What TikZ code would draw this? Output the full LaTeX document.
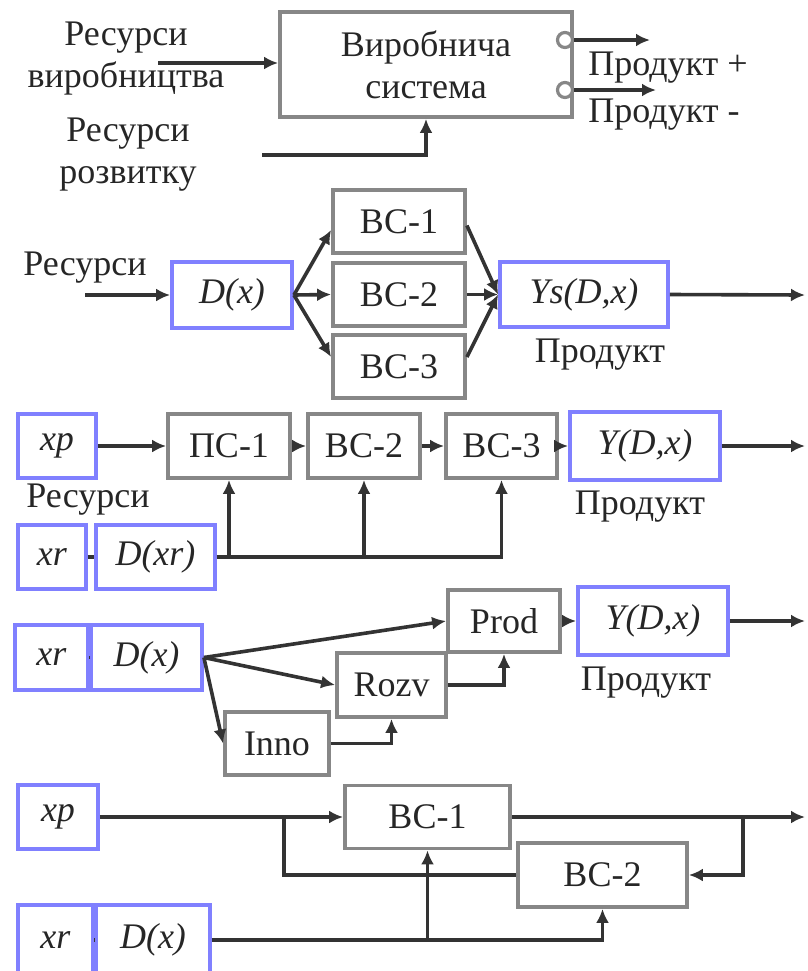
\documentclass[tikz,border=0pt]{standalone}
\usepackage{fontspec}
\setmainfont{Liberation Serif}
\usetikzlibrary{arrows.meta}

\tikzset{
  box/.style={draw=black!47, line width=1.9pt, fill=white, inner sep=0pt,
    align=center, text=black!85},
  bbox/.style={box, draw=blue!50},
  arr/.style={line width=1.8pt, draw=black!80, -{Latex[length=7pt,width=6.5pt]}},
  ln/.style={line width=1.8pt, draw=black!80},
  lbl/.style={align=center, text=black!85, inner sep=0pt}
}

\begin{document}
\begin{tikzpicture}[x=0.5pt, y=-0.5pt, font=\fontsize{18}{21}\selectfont]
\useasboundingbox (0,0) rectangle (808,971);

\node[box, minimum width=146pt, minimum height=52.5pt] (sys) at (426,64.5) {Виробнича\\система};
\node[circle, draw=black!47, line width=1.6pt, fill=white, minimum size=7.5pt, inner sep=0pt] (c1) at (565,40) {};
\node[circle, draw=black!47, line width=1.6pt, fill=white, minimum size=7.5pt, inner sep=0pt] (c2) at (565,90) {};
\coordinate (in1) at (158,63);
\coordinate (in2) at (262,155);
\coordinate (o1) at (650,40);
\coordinate (o2) at (656,90);
\node[lbl] (rv) at (126,59) {Ресурси\\виробництва};
\node[lbl] (rr) at (128,155) {Ресурси\\розвитку};
\node[lbl] (pp) at (668,68) {Продукт +};
\node[lbl] (pm) at (664,115) {Продукт -};
\draw[arr] (in1) -- (sys.west |- in1);
\draw[arr] (in2) -| (sys.south);
\draw[arr] (c1.east) -- (o1);
\draw[arr] (c2.east) -- (o2);

\node[lbl] (r2) at (85,268) {Ресурси};
\coordinate (in3) at (85,295);
\node[bbox, minimum width=60pt, minimum height=33pt] (Dx) at (232,295) {\textit{D(x)}};
\node[box, minimum width=66pt, minimum height=31.5pt] (bc1) at (399,221.5) {ВС-1};
\node[box, minimum width=66pt, minimum height=31.5pt] (bc2) at (399,294.5) {ВС-2};
\node[box, minimum width=66pt, minimum height=31.5pt] (bc3) at (399,366.5) {ВС-3};
\node[bbox, minimum width=84pt, minimum height=32.5pt] (Ys) at (584,294.5) {\textit{Ys(D,x)}};
\node[lbl] (p2) at (600,355) {Продукт};
\coordinate (out2) at (805,295);
\draw[arr] (in3) -- (Dx.west);
\draw[arr] (Dx.east) -- ([yshift=-4.25pt]bc1.west);
\draw[arr] (Dx.east) -- (bc2.west);
\draw[arr] (Dx.east) -- ([yshift=4.75pt]bc3.west);
\draw[arr] ([yshift=-2pt]bc1.east) -- (Ys.west);
\draw[arr] (bc2.east) -- (Ys.west);
\draw[arr] ([yshift=4.75pt]bc3.east) -- (Ys.west);
\draw[arr] (Ys.east) -- (out2);

\node[bbox, minimum width=39pt, minimum height=32pt] (xp1) at (57,446) {\textit{xp}};
\node[box, minimum width=61pt, minimum height=32pt] (ps1) at (229,446) {ПС-1};
\node[box, minimum width=56pt, minimum height=32pt] (bs2) at (364,446) {ВС-2};
\node[box, minimum width=55.5pt, minimum height=32pt] (bs3) at (501.5,446) {ВС-3};
\node[bbox, minimum width=75pt, minimum height=34pt] (Y1) at (645,446) {\textit{Y(D,x)}};
\coordinate (out3) at (805,446);
\node[lbl] (r3) at (88,500) {Ресурси};
\node[lbl] (p3) at (640,507) {Продукт};
\node[bbox, minimum width=34pt, minimum height=32pt] (xr1) at (52,557) {\textit{xr}};
\node[bbox, minimum width=59.5pt, minimum height=32pt] (Dxr) at (155.5,557) {\textit{D(xr)}};
\draw[arr] (xp1) -- (ps1);
\draw[arr] (ps1) -- (bs2);
\draw[arr] (bs2) -- (bs3);
\draw[arr] (bs3) -- (Y1);
\draw[arr] (Y1) -- (out3);
\draw[ln] (xr1) -- (Dxr);
\draw[arr] (Dxr.east) -| (ps1.south);
\draw[arr] (Dxr.east) -| (bs2.south);
\draw[arr] (Dxr.east) -| (bs3.south);

\node[bbox, minimum width=36.5pt, minimum height=32.5pt] (xr2) at (51.5,657.5) {\textit{xr}};
\node[bbox, minimum width=55.5pt, minimum height=32.5pt] (Dx2) at (146.5,657.5) {\textit{D(x)}};
\node[box, minimum width=56pt, minimum height=31pt] (prod) at (504,621) {Prod};
\node[bbox, minimum width=75pt, minimum height=34pt] (Y2) at (653,621) {\textit{Y(D,x)}};
\node[box, minimum width=54.5pt, minimum height=32pt] (rozv) at (391.5,685) {Rozv};
\node[box, minimum width=52pt, minimum height=31.5pt] (inno) at (277,743.5) {Inno};
\node[lbl] (p4) at (646,683) {Продукт};
\coordinate (out4) at (805,621);
\draw[ln] (xr2) -- (Dx2);
\draw[arr] (Dx2.east) -- (prod.west);
\draw[arr] (Dx2.east) -- (rozv.west);
\draw[arr] (Dx2.east) -- (inno.west);
\draw[arr] (inno.east) -| (rozv.south);
\draw[arr] (rozv.east) -| (prod.south);
\draw[arr] (prod) -- (Y2);
\draw[arr] (Y2) -- (out4);

\node[bbox, minimum width=40pt, minimum height=32pt] (xp2) at (58,817) {\textit{xp}};
\node[box, minimum width=82.5pt, minimum height=31.5pt] (bv1) at (427.5,817) {ВС-1};
\node[box, minimum width=84.5pt, minimum height=32pt] (bv2) at (602.5,875) {ВС-2};
\node[bbox, minimum width=37.5pt, minimum height=35pt] (xr3) at (55.5,940) {\textit{xr}};
\node[bbox, minimum width=57pt, minimum height=35pt] (Dx3) at (153,940) {\textit{D(x)}};
\coordinate (j1) at (284,817);
\coordinate (j2) at (743,817);
\coordinate (out5) at (805,817);
\draw[arr] (xp2) -- (bv1);
\draw[arr] (bv1) -- (out5);
\draw[arr] (j2) |- (bv2.east);
\draw[ln] (bv2.west) -| (j1);
\draw[ln] (xr3) -- (Dx3);
\draw[arr] (Dx3.east) -| (bv1.south);
\draw[arr] (Dx3.east) -| (bv2.south);
\end{tikzpicture}
\end{document}
